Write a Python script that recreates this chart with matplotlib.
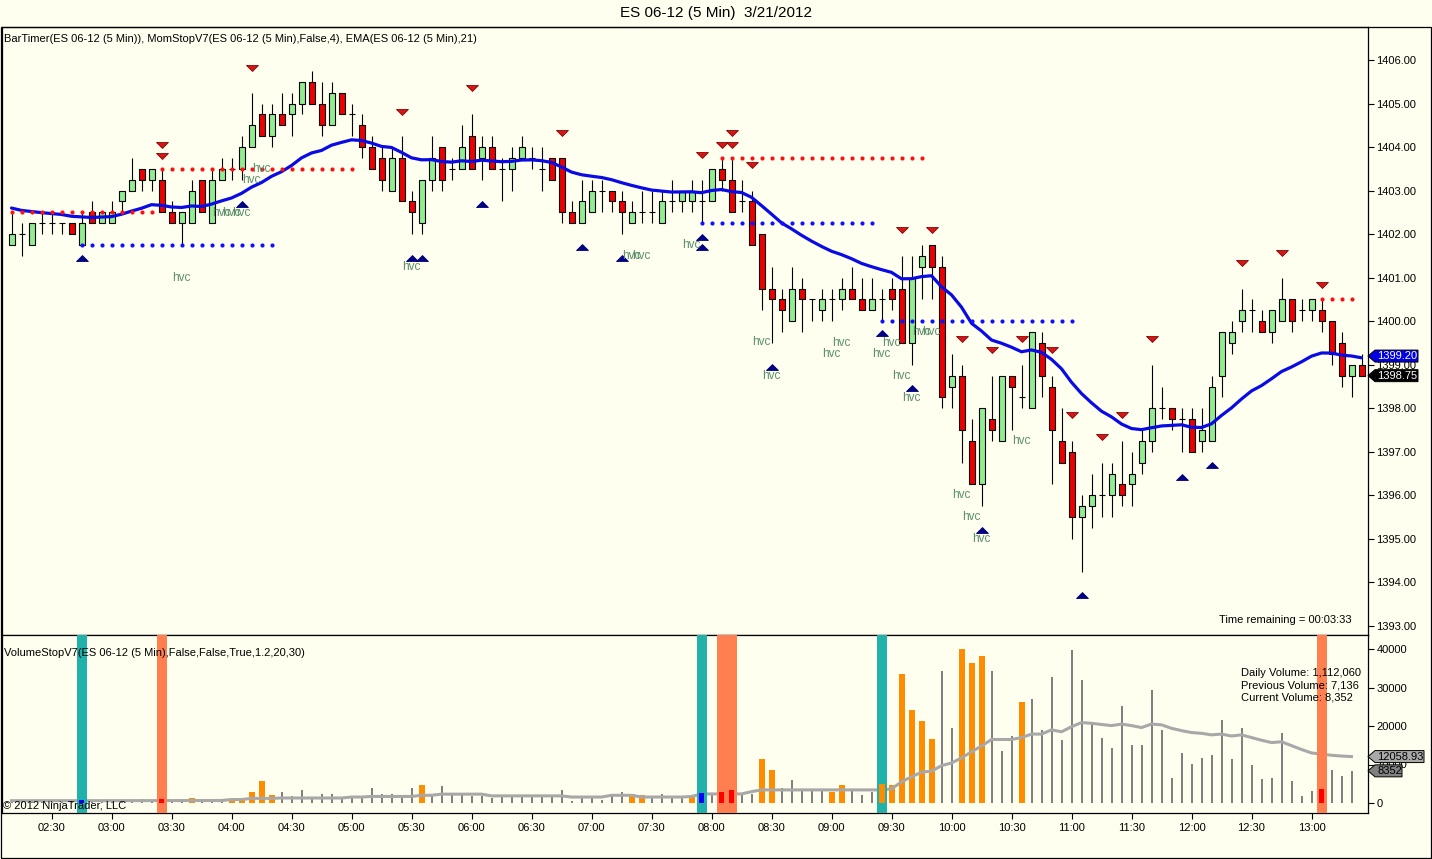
import numpy as np
import matplotlib
matplotlib.use("Agg")
import matplotlib.pyplot as plt
from matplotlib.patches import Polygon, Rectangle
import matplotlib.transforms as mtrans

plt.rcParams['font.family'] = ['Liberation Sans', 'DejaVu Sans']

# ---------------- DATA ----------------
# 5-minute bars, first bar 02:10, index i -> 02:10 + 5*i minutes
opens = [1401.75, 1402.0, 1401.75, 1402.25, 1402.25, 1402.25, 1402.25, 1401.75, 1402.5, 1402.25,
         1402.25, 1402.75, 1403.0, 1403.5, 1403.25, 1403.25, 1402.5, 1402.25, 1402.25, 1403.25,
         1402.25, 1403.25, 1403.5, 1403.5, 1404.0, 1404.75, 1404.25, 1404.75, 1404.75, 1405.0,
         1405.5, 1405.0, 1404.5, 1405.25, 1404.75, 1404.5, 1404.0, 1403.75, 1403.0, 1403.75,
         1402.75, 1402.25, 1403.25, 1404.0, 1403.5, 1403.5, 1404.25, 1403.75, 1404.0, 1403.5,
         1403.5, 1403.75, 1403.75, 1403.5, 1403.75, 1403.75, 1402.5, 1402.25, 1402.5, 1403.0,
         1403.0, 1402.75, 1402.25, 1402.5, 1402.5, 1402.25, 1402.75, 1402.75, 1402.75, 1402.75,
         1402.75, 1403.5, 1403.25, 1402.75, 1402.75, 1402.0, 1400.75, 1400.5, 1400.0, 1400.75,
         1400.5, 1400.25, 1400.5, 1400.5, 1400.75, 1400.5, 1400.25, 1400.5, 1400.75, 1400.75,
         1399.5, 1401.25, 1401.75, 1401.25, 1398.5, 1398.75, 1397.25, 1396.25, 1397.75, 1397.25,
         1398.75, 1398.25, 1398.0, 1399.5, 1398.5, 1397.25, 1397.0, 1395.5, 1395.75, 1396.0,
         1396.0, 1396.25, 1396.25, 1396.75, 1397.25, 1398.0, 1398.0, 1397.75, 1397.75, 1397.25,
         1397.25, 1398.75, 1399.5, 1400.0, 1400.25, 1400.0, 1399.75, 1400.0, 1400.5, 1400.25,
         1400.25, 1400.25, 1400.0, 1399.5, 1398.75, 1399.0]
highs = [1402.5, 1402.25, 1402.25, 1402.5, 1402.5, 1402.25, 1402.25, 1402.5, 1402.75, 1402.5,
         1402.75, 1403.0, 1403.75, 1403.5, 1403.5, 1403.5, 1402.75, 1402.5, 1403.25, 1403.25,
         1403.5, 1403.75, 1403.75, 1404.25, 1405.25, 1405.0, 1405.0, 1405.25, 1405.25, 1405.5,
         1405.75, 1405.5, 1405.5, 1405.25, 1405.0, 1404.75, 1404.25, 1404.0, 1404.0, 1404.25,
         1403.0, 1403.25, 1404.25, 1404.0, 1403.75, 1404.5, 1404.75, 1404.25, 1404.25, 1403.75,
         1404.0, 1404.25, 1404.0, 1404.0, 1403.75, 1403.75, 1402.75, 1403.25, 1403.25, 1403.25,
         1403.0, 1403.0, 1402.75, 1403.0, 1403.0, 1403.0, 1403.25, 1403.0, 1403.25, 1403.25,
         1403.5, 1403.75, 1403.75, 1403.25, 1403.0, 1402.0, 1401.25, 1400.75, 1401.25, 1401.0,
         1400.5, 1400.75, 1400.75, 1401.0, 1401.25, 1401.0, 1401.0, 1400.75, 1401.0, 1401.5,
         1401.5, 1401.75, 1401.75, 1401.5, 1399.25, 1399.0, 1397.75, 1398.0, 1398.75, 1398.75,
         1398.75, 1399.0, 1399.75, 1399.75, 1398.75, 1398.0, 1397.25, 1396.0, 1396.5, 1396.75,
         1396.75, 1397.25, 1397.0, 1397.5, 1399.0, 1398.5, 1398.0, 1398.0, 1398.0, 1398.0,
         1398.75, 1399.75, 1400.0, 1400.75, 1400.5, 1400.25, 1400.25, 1401.0, 1400.5, 1400.5,
         1400.5, 1400.5, 1400.0, 1399.75, 1399.0, 1399.25]
lows = [1401.75, 1401.5, 1401.75, 1402.0, 1402.0, 1402.0, 1402.0, 1401.75, 1402.25, 1402.25,
        1402.25, 1402.5, 1403.0, 1403.0, 1403.0, 1402.5, 1402.25, 1401.75, 1402.25, 1402.5,
        1402.25, 1403.25, 1403.25, 1403.25, 1404.0, 1404.25, 1404.0, 1404.5, 1404.25, 1404.75,
        1405.0, 1404.25, 1404.5, 1404.75, 1404.25, 1403.75, 1403.5, 1403.0, 1403.0, 1402.75,
        1402.0, 1402.0, 1403.0, 1403.0, 1403.25, 1403.5, 1403.5, 1403.25, 1403.5, 1402.75,
        1403.0, 1403.75, 1403.5, 1403.0, 1403.25, 1402.25, 1402.25, 1402.25, 1402.5, 1402.5,
        1402.5, 1402.0, 1402.25, 1402.25, 1402.25, 1402.25, 1402.5, 1402.5, 1402.5, 1402.25,
        1402.75, 1403.0, 1402.5, 1402.5, 1401.75, 1400.25, 1399.5, 1399.75, 1400.0, 1399.75,
        1400.0, 1400.0, 1400.0, 1400.25, 1400.5, 1400.25, 1400.25, 1400.0, 1400.25, 1399.5,
        1399.0, 1400.5, 1400.5, 1398.0, 1398.0, 1396.75, 1396.25, 1395.75, 1397.25, 1397.25,
        1397.5, 1398.0, 1398.0, 1398.25, 1396.25, 1396.75, 1395.0, 1394.25, 1395.25, 1395.5,
        1395.5, 1395.75, 1395.75, 1396.5, 1397.0, 1397.75, 1397.5, 1397.0, 1397.0, 1397.0,
        1397.25, 1398.25, 1399.25, 1399.75, 1399.75, 1399.75, 1399.5, 1400.0, 1399.75, 1400.0,
        1400.0, 1399.75, 1399.0, 1398.5, 1398.25, 1398.75]
closes = [1402.0, 1402.0, 1402.25, 1402.25, 1402.25, 1402.25, 1402.0, 1402.25, 1402.25, 1402.5,
          1402.5, 1403.0, 1403.25, 1403.25, 1403.5, 1402.5, 1402.25, 1402.5, 1403.0, 1402.5,
          1403.25, 1403.5, 1403.5, 1404.0, 1404.5, 1404.25, 1404.75, 1404.5, 1405.0, 1405.5,
          1405.0, 1404.5, 1405.25, 1404.75, 1404.75, 1404.0, 1403.5, 1403.25, 1403.75, 1402.75,
          1402.5, 1403.25, 1403.75, 1403.25, 1403.5, 1404.0, 1403.5, 1404.0, 1403.5, 1403.5,
          1403.75, 1404.0, 1403.75, 1403.5, 1403.25, 1402.5, 1402.25, 1402.75, 1403.0, 1403.0,
          1402.75, 1402.5, 1402.5, 1402.5, 1402.5, 1402.75, 1402.75, 1403.0, 1403.0, 1402.75,
          1403.5, 1403.25, 1402.5, 1402.75, 1401.75, 1400.75, 1400.5, 1400.25, 1400.75, 1400.5,
          1400.5, 1400.5, 1400.5, 1400.75, 1400.5, 1400.25, 1400.5, 1400.5, 1400.5, 1399.5,
          1401.0, 1401.5, 1401.25, 1398.25, 1398.75, 1397.5, 1396.25, 1398.0, 1397.5, 1398.75,
          1398.5, 1398.25, 1399.75, 1398.75, 1397.5, 1396.75, 1395.5, 1395.75, 1396.0, 1396.0,
          1396.5, 1396.0, 1396.5, 1397.25, 1398.0, 1398.0, 1397.75, 1397.75, 1397.0, 1397.5,
          1398.5, 1399.75, 1399.75, 1400.25, 1400.25, 1399.75, 1400.25, 1400.5, 1400.0, 1400.25,
          1400.5, 1400.0, 1399.25, 1398.75, 1399.0, 1398.75]

ema_period = 21
ema_seed = 1402.6          # EMA value read at the first bar

# MomStop dotted stop levels: (first bar, last bar, price)
stops_red = [(0, 14, 1402.5), (15, 34, 1403.5), (71, 91, 1403.75), (131, 134, 1400.5)]
stops_blue = [(7, 26, 1401.75), (69, 86, 1402.25), (87, 106, 1400.0)]

# signal triangles (bar, price)
sig_down = [(15, 1404.05), (15, 1403.80), (24, 1405.82), (39, 1404.81), (46, 1405.36),
            (55, 1404.32), (69, 1403.82), (71, 1404.05), (72, 1404.32), (72, 1404.05),
            (74, 1403.59), (89, 1402.10), (92, 1402.10), (95, 1399.59), (98, 1399.34),
            (101, 1399.59), (104, 1399.34), (106, 1397.85), (109, 1397.34), (111, 1397.85),
            (114, 1399.59), (123, 1401.34), (127, 1401.57), (131, 1400.83)]
sig_up = [(7, 1401.45), (23, 1402.69), (40, 1401.45), (41, 1401.45), (47, 1402.69),
          (57, 1401.71), (61, 1401.45), (69, 1401.93), (69, 1401.71), (76, 1398.95),
          (87, 1399.73), (90, 1398.47), (97, 1395.21), (107, 1393.71), (117, 1396.42),
          (120, 1396.70)]

# "hvc" markers (bar, price)
hvc_marks = [(17, 1401.0), (25, 1403.5), (24, 1403.24), (21, 1402.49), (22, 1402.49),
             (23, 1402.49), (40, 1401.25), (62, 1401.5), (63, 1401.5), (68, 1401.75),
             (75, 1399.52), (76, 1398.74), (82, 1399.25), (83, 1399.5), (87, 1399.25),
             (88, 1399.5), (89, 1398.74), (90, 1398.24), (91, 1399.75), (92, 1399.75),
             (95, 1396.0), (96, 1395.5), (97, 1395.0), (101, 1397.25)]

volumes = [500, 400, 600, 300, 400, 300, 500, 700, 500, 400,
           600, 800, 700, 1100, 600, 1100, 500, 700, 1200, 900,
           500, 400, 600, 700, 2900, 5600, 2000, 2900, 1700, 3500,
           1500, 2400, 2400, 1500, 1300, 1300, 4000, 2400, 2400, 2200,
           4000, 4800, 2200, 4300, 2600, 2200, 1700, 1800, 1300, 2200,
           2200, 2200, 2200, 2200, 1500, 3300, 500, 1300, 1300, 900,
           2200, 2900, 2400, 2000, 1300, 2400, 1800, 1500, 1700, 2600,
           2400, 2900, 3300, 2400, 2400, 11300, 8500, 4000, 5900, 3500,
           3500, 3500, 2900, 4800, 3300, 2000, 2900, 5000, 4800, 33400,
           24100, 21200, 16500, 34300, 19400, 40000, 36300, 38300, 34300, 13500,
           17400, 26200, 27000, 19000, 32600, 16300, 39800, 32000, 20700, 17000,
           14400, 25200, 15000, 15000, 29400, 19000, 6600, 13000, 10100, 11800,
           12400, 21600, 11400, 19400, 9800, 6300, 6600, 18100, 5700, 1700,
           3100, 3700, 8700, 7136, 8352]
volume_avg = [600, 600, 600, 600, 600, 600, 600, 600, 600, 600,
              600, 600, 600, 620, 620, 620, 640, 640, 650, 650,
              650, 650, 900, 900, 1200, 1200, 1200, 1300, 1300, 1300,
              1300, 1300, 1300, 1300, 1550, 1550, 1700, 1700, 1700, 1700,
              1700, 2000, 2000, 2300, 2300, 2300, 2300, 2300, 1850, 1850,
              1850, 1850, 1850, 1850, 1850, 1850, 1550, 1550, 1550, 1550,
              2000, 2000, 2000, 1550, 1550, 1550, 1550, 1550, 1700, 2350,
              2350, 2350, 2350, 2350, 2950, 3400, 3400, 3400, 3400, 3400,
              3400, 3400, 3400, 3400, 3400, 3400, 3400, 3400, 3650, 5500,
              6800, 8000, 8300, 9700, 10400, 11700, 13300, 14800, 16500, 16500,
              16500, 17000, 17900, 17900, 19000, 18500, 19800, 20900, 20700, 20400,
              20100, 20500, 20100, 19600, 20500, 20300, 19400, 18800, 18300, 18100,
              17700, 17900, 17400, 17700, 17000, 16300, 15700, 15900, 14900, 13900,
              13000, 12700, 12400, 12200, 12059]
vol_orange = [18, 22, 23, 24, 25, 26, 41, 62, 63, 68, 75, 76, 82, 83, 87, 88, 89, 90, 91, 92,
              95, 96, 97, 101]
vol_red = [15, 71, 72, 131]
vol_blue = [7, 69]
band_teal = [7, 69, 87]
band_coral = [15, 71, 72, 131]

tick_labels = ["02:30", "03:00", "03:30", "04:00", "04:30", "05:00", "05:30", "06:00",
               "06:30", "07:00", "07:30", "08:00", "08:30", "09:00", "09:30", "10:00",
               "10:30", "11:00", "11:30", "12:00", "12:30", "13:00"]
tick_bars = [4 + 6 * k for k in range(len(tick_labels))]

ema_last_label = "1399.20"
close_label = "1398.75"
avg_label = "12058.93"
cur_vol_label = "8352"

# ---------------- FIGURE ----------------
W, H = 1432, 859
BG = '#FFFFF0'
FS = 8
fig = plt.figure(figsize=(W / 100, H / 100), dpi=100, facecolor=BG)


def rect(x0, y0, x1, y1):
    return [x0 / W, 1 - y1 / H, (x1 - x0) / W, (y1 - y0) / H]


def ftext(x, y, s, **kw):
    fig.text(x / W, 1 - y / H, s, **kw)


X_LEFT, X_RIGHT = 2, 1368
axp = fig.add_axes(rect(X_LEFT, 27, X_RIGHT, 635))
axv = fig.add_axes(rect(X_LEFT, 635, X_RIGHT, 813), sharex=axp)
for a in (axp, axv):
    a.set_facecolor(BG)
    for s in a.spines.values():
        s.set_linewidth(0.9)
        s.set_color('black')

xmin = (X_LEFT - 11.5) / 10
xmax = (X_RIGHT - 11.5) / 10
axp.set_xlim(xmin, xmax)

ppu = (626 - 60) / 13.0
axp.set_ylim(1393 - 9 / ppu, 1406 + 33 / ppu)
vpp = 3.85 / 1000.0
axv.set_ylim(-10 / vpp, 40000 + 14 / vpp)

idx = np.arange(len(opens))
o = np.array(opens); h = np.array(highs); l = np.array(lows); c = np.array(closes)

# wicks
axp.vlines(idx, l, h, color='black', lw=0.8, zorder=3)
# bodies
body_col = ['#90EE90' if cc > oo else ('#EE0000' if cc < oo else 'black') for oo, cc in zip(o, c)]
axp.bar(idx, np.abs(c - o), bottom=np.minimum(o, c), width=0.6, color=body_col,
        edgecolor='black', linewidth=0.8, zorder=4)

# EMA(21) of the closes
alpha = 2.0 / (ema_period + 1)
ema = [ema_seed]
for cc in c[1:]:
    ema.append(ema[-1] + alpha * (cc - ema[-1]))
axp.plot(idx, ema, color='#0A0AE6', lw=2.3, zorder=5, solid_capstyle='round')

# stops
for a0, a1, p in stops_red:
    xs = np.arange(a0, a1 + 1)
    axp.plot(xs, [p] * len(xs), ls='none', marker='o', ms=3.0, color='#FF1010', mec='none', zorder=6)
for a0, a1, p in stops_blue:
    xs = np.arange(a0, a1 + 1)
    axp.plot(xs, [p] * len(xs), ls='none', marker='o', ms=3.0, color='#1010FF', mec='none', zorder=6)

tri_down = [(-1, 0.5), (1, 0.5), (0, -0.5), (-1, 0.5)]
tri_up = [(-1, -0.5), (1, -0.5), (0, 0.5), (-1, -0.5)]
axp.plot([s[0] for s in sig_down], [s[1] for s in sig_down], ls='none', marker=tri_down,
         ms=8.5, color='#D01818', mec='#8B0000', mew=0.6, zorder=6)
axp.plot([s[0] for s in sig_up], [s[1] for s in sig_up], ls='none', marker=tri_up,
         ms=8.5, color='#00008C', mec='#00006A', mew=0.6, zorder=6)

for b, p in hvc_marks:
    axp.text(b, p, 'hvc', ha='center', va='center', fontsize=8.5, color='#5B8E6C', zorder=7)

# axes ticks price
axp.yaxis.tick_right()
axp.set_yticks(np.arange(1393, 1407, 1))
axp.set_yticklabels([f"{v:.2f}" for v in np.arange(1393, 1407, 1)])
axp.tick_params(axis='y', direction='out', length=4, width=0.8, labelsize=FS, pad=2)
axp.tick_params(axis='x', bottom=False, labelbottom=False)

# volume
vidx = np.arange(len(volumes))
vv = np.array(volumes, dtype=float)
normal = [i for i in vidx if i not in vol_orange and i not in vol_red and i not in vol_blue]
axv.bar(normal, vv[normal], width=0.2, color='#808080', zorder=2)
axv.bar(vol_orange, vv[vol_orange], width=0.6, color='#FF8C00', zorder=2)
axv.plot(vidx, volume_avg, color='#A8A8A8', lw=2.2, zorder=3)
ylo, yhi = axv.get_ylim()
axv.bar(band_teal, yhi - ylo, bottom=ylo, width=1.0, color='#20B2AA', zorder=4)
axv.bar(band_coral, yhi - ylo, bottom=ylo, width=1.0, color='#FF7F50', zorder=4)
orange_in_band = [i for i in vol_orange if i in band_teal or i in band_coral]
axv.bar(orange_in_band, vv[orange_in_band], width=0.6, color='#FF8C00', zorder=5)
axv.bar(vol_red, vv[vol_red], width=0.5, color='#FF0000', zorder=5)
axv.bar(vol_blue, vv[vol_blue], width=0.5, color='#0000FF', zorder=5)
axv.set_ylim(ylo, yhi)

axv.yaxis.tick_right()
axv.set_yticks([0, 10000, 20000, 30000, 40000])
axv.set_yticklabels(["0", "10000", "20000", "30000", "40000"])
axv.tick_params(axis='y', direction='out', length=4, width=0.8, labelsize=FS, pad=2)
axv.set_xticks(tick_bars)
axv.set_xticklabels(tick_labels)
axv.tick_params(axis='x', direction='out', length=4, width=0.8, labelsize=FS, pad=3)


# right-hand value tags
def fx(px):
    return (px - X_LEFT) / (X_RIGHT - X_LEFT)


def tag(ax, value, text, fc, tc, upp, right_px):
    tr = mtrans.blended_transform_factory(ax.transAxes, ax.transData)
    hh = 6 * upp
    pts = [(fx(1368), value), (fx(1375), value + hh), (fx(right_px), value + hh),
           (fx(right_px), value - hh), (fx(1375), value - hh)]
    ax.add_patch(Polygon(pts, closed=True, transform=tr, fc=fc, ec='black', lw=0.7,
                         clip_on=False, zorder=20))
    ax.text(fx(1377), value, text, transform=tr, ha='left', va='center', fontsize=FS,
            color=tc, clip_on=False, zorder=21)


tag(axp, float(ema_last_label), ema_last_label, '#0000E0', 'white', 1 / ppu, 1418)
tag(axp, float(close_label), close_label, 'black', 'white', 1 / ppu, 1418)
tag(axv, float(avg_label), avg_label, '#A9A9A9', 'black', 1 / vpp, 1424)
tag(axv, float(cur_vol_label), cur_vol_label, '#808080', 'black', 1 / vpp, 1402)

# texts
ftext(716, 13, "ES 06-12 (5 Min)  3/21/2012", ha='center', va='center', fontsize=11)
ftext(4, 39, "BarTimer(ES 06-12 (5 Min)), MomStopV7(ES 06-12 (5 Min),False,4), EMA(ES 06-12 (5 Min),21)",
      ha='left', va='center', fontsize=FS)
ftext(4, 653, "VolumeStopV7(ES 06-12 (5 Min),False,False,True,1.2,20,30)", ha='left', va='center',
      fontsize=FS)
ftext(3, 806, "© 2012 NinjaTrader, LLC", ha='left', va='center', fontsize=FS, zorder=30)
ftext(1352, 620, "Time remaining = 00:03:33", ha='right', va='center', fontsize=FS)
ftext(1241, 673, "Daily Volume: 1,112,060", ha='left', va='center', fontsize=FS)
ftext(1241, 685, "Previous Volume: 7,136", ha='left', va='center', fontsize=FS)
ftext(1241, 697, "Current Volume: 8,352", ha='left', va='center', fontsize=FS)

# outer frame
fig.add_artist(Rectangle((1 / W, 1 - 858 / H), 1430 / W, (858 - 27) / H, transform=fig.transFigure,
                         fill=False, ec='black', lw=0.9))

fig.savefig("out.png", dpi=100, facecolor=BG)
